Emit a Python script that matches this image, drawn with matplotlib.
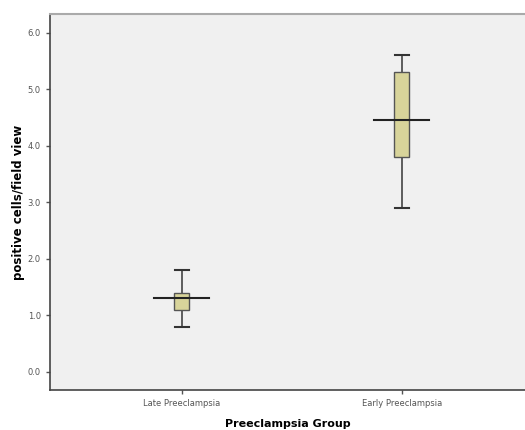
import matplotlib.pyplot as plt

# data
groups = ["Late Preeclampsia", "Early Preeclampsia"]
box_low = [1.1, 3.8]
box_high = [1.4, 5.3]
whisker_low = [0.8, 2.9]
whisker_high = [1.8, 5.6]
means = [1.3, 4.45]
y_ticks = [0.0, 1.0, 2.0, 3.0, 4.0, 5.0, 6.0]

fig = plt.figure(figsize=(5.25, 4.3), dpi=100)
ax = fig.add_axes([0.095, 0.093, 0.905, 0.874])
ax.set_facecolor("#f0f0f0")

xs = list(range(len(groups)))
box_w = 0.068
cap_w = 0.064
mean_w = 0.25

for x, lo, hi, wl, wh, m in zip(xs, box_low, box_high, whisker_low, whisker_high, means):
    # whiskers
    ax.plot([x, x], [wl, lo], color="#444444", lw=1.2, zorder=2)
    ax.plot([x, x], [hi, wh], color="#444444", lw=1.2, zorder=2)
    ax.plot([x - cap_w / 2, x + cap_w / 2], [wl, wl], color="#333333", lw=1.5, zorder=2)
    ax.plot([x - cap_w / 2, x + cap_w / 2], [wh, wh], color="#333333", lw=1.5, zorder=2)
    # box
    ax.bar(x, hi - lo, bottom=lo, width=box_w, color="#d8d49a",
           edgecolor="#555555", linewidth=1.0, zorder=3)
    # mean line
    ax.plot([x - mean_w / 2, x + mean_w / 2], [m, m], color="#222222", lw=1.5, zorder=4)

ax.set_xlim(-0.6, 1.56)
ax.set_ylim(-0.32, 6.33)
ax.set_xticks(xs)
ax.set_xticklabels(groups)
ax.set_yticks(y_ticks)
ax.set_yticklabels([f"{v:.1f}" for v in y_ticks])
ax.tick_params(axis="both", labelsize=6, colors="#555555", length=3, width=1)

for s in ["left", "bottom"]:
    ax.spines[s].set_color("#444444")
    ax.spines[s].set_linewidth(1.2)
ax.spines["top"].set_color("#aaaaaa")
ax.spines["top"].set_linewidth(1.5)
ax.spines["right"].set_visible(False)

ax.set_ylabel("positive cells/field view", fontsize=8.5, fontweight="bold", labelpad=2)
ax.set_xlabel("Preeclampsia Group", fontsize=8, fontweight="bold", labelpad=8)

fig.savefig("out.png", dpi=100, facecolor="white")
